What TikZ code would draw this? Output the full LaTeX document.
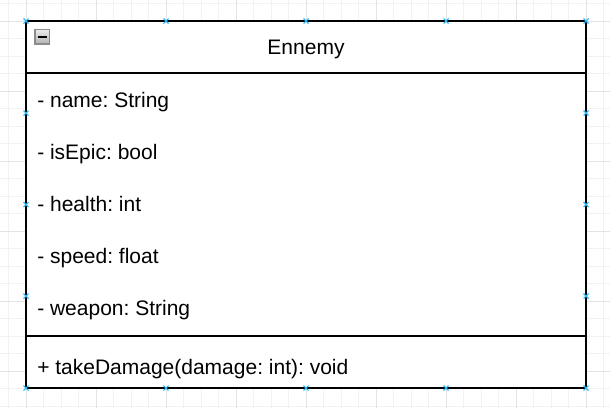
\documentclass[tikz,border=0pt]{standalone}
\usepackage{fontspec}
\setmainfont{Liberation Sans}
\usepackage{tikz}
\tikzset{>=latex}
\usepackage{xcolor}
\colorlet{gridminor}{black!5}
\colorlet{gridmajor}{black!11}
\definecolor{handleblue}{RGB}{41,182,242}
\frenchspacing

\begin{document}
\begin{tikzpicture}[x=0.75pt, y=-0.75pt, % 1 unidade = 1 pixel da imagem
                    line join=miter,
                    umlbox/.style={draw=black, line width=1.5pt},
                    member/.style={anchor=base west, inner sep=0pt,
                                   font=\fontsize{15.75}{18}\selectfont},
                    handle/.style={handleblue, line width=0.8pt}]
  \def\L{26}    % borda esquerda da classe
  \def\R{586}   % borda direita
  \def\T{21}    % topo
  \def\B{388}   % base
  \def\G{17.5}  % passo da grade
  \useasboundingbox (0,0) rectangle (610,408);

% Desenha a grade de fundo
  \foreach \k in {-1,...,33}{
    \draw[gridminor, line width=0.6pt] ({\L+\k*\G},0) -- ({\L+\k*\G},408);
  }
  \foreach \k in {-1,...,22}{
    \draw[gridminor, line width=0.6pt] (0,{\T+\k*\G}) -- (610,{\T+\k*\G});
  }
  \foreach \k in {0,...,8}{
    \draw[gridmajor, line width=0.6pt] ({\L+\k*4*\G},0) -- ({\L+\k*4*\G},408);
  }
  \foreach \k in {0,...,5}{
    \draw[gridmajor, line width=0.6pt] (0,{\T+\k*4*\G}) -- (610,{\T+\k*4*\G});
  }

% Caixa da classe
  \coordinate (boxNW) at (\L,\T);
  \coordinate (boxSE) at (\R,\B);
  \fill[white] (boxNW) rectangle (boxSE);
  \draw[umlbox] (\L,73) -- (\R,73);
  \draw[umlbox] (\L,335.5) -- (\R,335.5);
  \draw[umlbox] (boxNW) rectangle (boxSE);

% Botao de recolher
  \draw[black!45, top color=black!8, bottom color=black!30, line width=0.8pt]
    (35,29.5) rectangle (49.5,44);
  \draw[black, line width=1.6pt] (37.5,37) -- (47,37);

% Nome da classe
  \node[member, anchor=base] (className) at (306,54) {Ennemy};

% Atributos
  \foreach \y/\txt [count=\i] in {107/{- name: String},
                                  159/{- isEpic: bool},
                                  211/{- health: int},
                                  263/{- speed: float},
                                  315/{- weapon: String}}{
    \node[member] (attr\i) at (37,\y) {\txt};
  }

% Metodo
  \node[member] (method1) at (37,374) {+ takeDamage(damage: int): void};

% Marcas de selecao
  \foreach \px/\py in {26/21,166/21,306/21,446/21,586/21,
                       26/113,586/113,26/204.5,586/204.5,26/296,586/296,
                       26/388,166/388,306/388,446/388,586/388}{
    \draw[handle] (\px-2.5,\py-2.5) -- (\px+2.5,\py+2.5)
                  (\px-2.5,\py+2.5) -- (\px+2.5,\py-2.5);
  }
\end{tikzpicture}
\end{document}
